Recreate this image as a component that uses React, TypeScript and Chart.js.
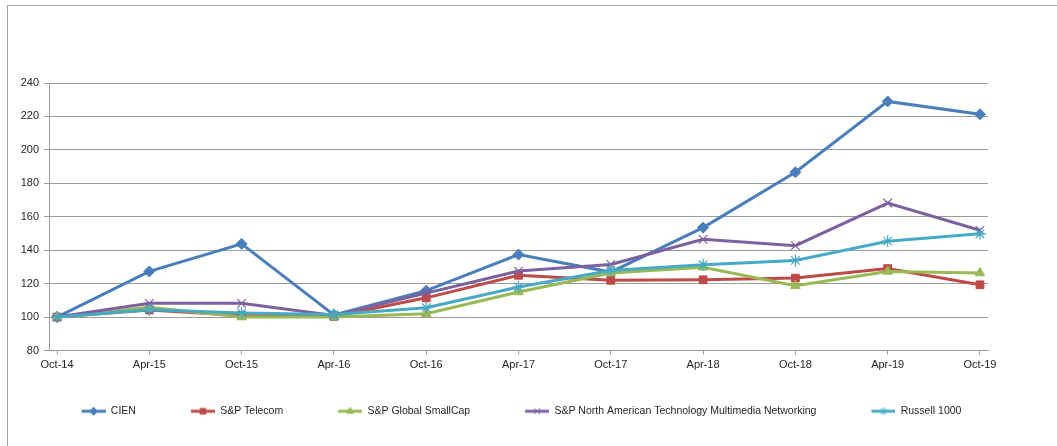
import React, { useEffect, useRef } from 'react';
import { Chart, registerables } from 'chart.js';
import { drawPoint } from 'chart.js/helpers';

Chart.register(...registerables);

const categories = ['Oct-14', 'Apr-15', 'Oct-15', 'Apr-16', 'Oct-16', 'Apr-17', 'Oct-17', 'Apr-18', 'Oct-18', 'Apr-19', 'Oct-19'];

const cien = [100, 127.3, 143.8, 101.3, 115.8, 137.4, 126.9, 153.5, 186.6, 229.0, 221.3];
const spTelecom = [100, 104.2, 101.0, 100.4, 111.5, 125.0, 122.0, 122.3, 123.3, 129.0, 119.3];
const spGlobalSmallCap = [100, 105.8, 100.0, 100.0, 102.0, 115.0, 126.3, 129.8, 118.7, 127.3, 126.3];
const spNorthAmTech = [100, 108.2, 108.2, 101.0, 114.3, 127.5, 131.5, 146.5, 142.7, 168.2, 151.9];
const russell1000 = [100, 104.4, 102.5, 101.5, 105.6, 118.0, 127.9, 131.3, 133.9, 145.4, 149.8];

const seriesNames = ['CIEN', 'S&P Telecom', 'S&P Global SmallCap', 'S&P North American Technology Multimedia Networking', 'Russell 1000'];
const seriesValues = [cien, spTelecom, spGlobalSmallCap, spNorthAmTech, russell1000];
const seriesColors = ['#4A7EBB', '#BE4B48', '#98B954', '#7D60A0', '#46AAC5'];
const seriesMarkers = ['rectRot', 'rect', 'triangle', 'crossRot', 'star'];
const seriesRadius = [5.5, 5.5, 5.5, 6, 6];

const yMin = 80;
const yMax = 240;
const yStep = 20;

const FONT = 'Liberation Sans, Arial, sans-serif';
const TEXT = '#262626';
const GRID = '#9c9c9c';
const LEGEND_BLANK = 55;
const LEGEND_PAD = 0;

function makeLegendIcon(color: string, style: string) {
  const c = document.createElement('canvas');
  c.width = LEGEND_BLANK + 24;
  c.height = 12;
  const ctx = c.getContext('2d')!;
  ctx.strokeStyle = color;
  ctx.lineWidth = 3;
  ctx.beginPath();
  ctx.moveTo(LEGEND_BLANK, 6);
  ctx.lineTo(LEGEND_BLANK + 24, 6);
  ctx.stroke();
  ctx.fillStyle = color;
  ctx.strokeStyle = color;
  ctx.lineWidth = 1;
  drawPoint(ctx, { pointStyle: style as any, radius: 4, rotation: 0, borderWidth: 1 } as any, LEGEND_BLANK + 12, 6);
  return c;
}

export default function App() {
  const ref = useRef<HTMLCanvasElement | null>(null);

  useEffect(() => {
    if (!ref.current) return;
    const icons = seriesColors.map((c, i) => makeLegendIcon(c, seriesMarkers[i]));
    const chart = new Chart(ref.current, {
      type: 'line',
      data: {
        datasets: seriesNames.map((name, i) => ({
          label: name,
          data: seriesValues[i].map((v, j) => ({ x: j, y: v })),
          borderColor: seriesColors[i],
          backgroundColor: seriesColors[i],
          pointBackgroundColor: seriesColors[i],
          pointBorderColor: seriesColors[i],
          pointStyle: seriesMarkers[i] as any,
          pointRadius: seriesRadius[i],
          pointBorderWidth: i >= 3 ? 1.2 : 1,
          borderWidth: 3,
          tension: 0,
          order: seriesNames.length - i,
        })),
      },
      options: {
        animation: false,
        responsive: false,
        layout: { padding: { top: 83, right: 69, bottom: 19.5, left: 0 } },
        plugins: {
          tooltip: { enabled: false },
          legend: {
            display: true,
            position: 'bottom',
            align: 'center',
            labels: {
              usePointStyle: true,
              pointStyleWidth: LEGEND_BLANK + 24,
              padding: LEGEND_PAD,
              color: TEXT,
              font: { family: FONT, size: 10.5 },
              generateLabels: (ch: any) =>
                ch.data.datasets.map((ds: any, i: number) => ({
                  text: ds.label,
                  pointStyle: icons[i],
                  fillStyle: ds.borderColor,
                  strokeStyle: ds.borderColor,
                  lineWidth: 0,
                  hidden: false,
                  datasetIndex: i,
                  fontColor: TEXT,
                })),
            },
          },
        },
        scales: {
          x: {
            type: 'linear',
            min: -0.087,
            max: 10.087,
            afterBuildTicks: (s: any) => {
              s.ticks = categories.map((_, i) => ({ value: i }));
            },
            afterFit: (s: any) => {
              s.height = 55.5;
            },
            ticks: {
              autoSkip: false,
              maxRotation: 0,
              padding: 4,
              color: TEXT,
              font: { family: FONT, size: 11 },
              callback: (v: any) => categories[v as number] ?? '',
            },
            grid: { drawOnChartArea: false, drawTicks: true, tickLength: 4, color: GRID },
            border: { color: GRID, width: 1 },
          },
          y: {
            min: yMin,
            max: yMax,
            afterFit: (s: any) => {
              s.width = 49;
            },
            ticks: {
              stepSize: yStep,
              padding: 5,
              color: TEXT,
              font: { family: FONT, size: 11 },
            },
            grid: { color: GRID, tickLength: 5, lineWidth: 1 },
            border: { color: GRID, width: 1 },
          },
        },
      },
    });
    return () => chart.destroy();
  }, []);

  return (
    <div style={{ position: 'fixed', left: 0, top: 0, width: 1057, height: 446, background: '#fff', overflow: 'hidden' }}>
      <div
        style={{
          position: 'absolute',
          left: 7,
          top: 5,
          width: 1100,
          height: 500,
          border: '1px solid #a6a6a6',
          boxSizing: 'border-box',
        }}
      />
      <canvas ref={ref} width={1057} height={446} style={{ position: 'absolute', left: 0, top: 0, width: 1057, height: 446 }} />
    </div>
  );
}
